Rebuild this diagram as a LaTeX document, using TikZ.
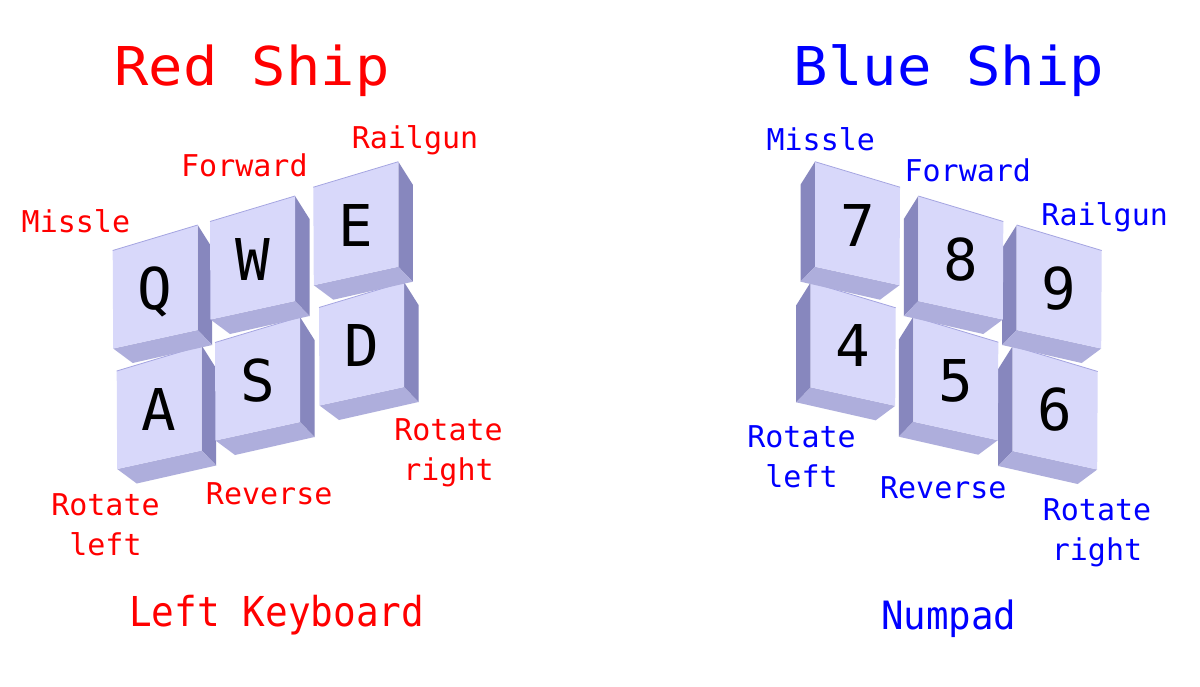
\documentclass[tikz,border=0pt]{standalone}
\usepackage{fontspec}
\usepackage{graphicx}
\newfontfamily\monofont{DejaVu Sans Mono}
\definecolor{keyfront}{RGB}{216,216,250}
\definecolor{keyside}{RGB}{135,135,190}
\definecolor{keybottom}{RGB}{174,174,220}
\definecolor{keyedge}{RGB}{165,165,225}
\definecolor{shipred}{RGB}{255,0,0}
\definecolor{shipblue}{RGB}{0,0,255}
\tikzset{
  keylabel/.style={anchor=base, inner sep=0pt, text=black, font=\monofont\fontsize{28.8}{30}\selectfont},
  actlabel/.style={anchor=base, inner sep=0pt, align=center, font=\monofont\fontsize{15}{20}\selectfont},
  titlelabel/.style={anchor=base, inner sep=0pt, font=\monofont\fontsize{26.75}{30}\selectfont},
  footlabel/.style={anchor=base, inner sep=0pt},
  redtext/.style={text=shipred},
  bluetext/.style={text=shipblue}
}
\newcommand\drawkey[5]{%
  \begin{scope}[shift={(#1,#2)},xscale=#3]
    \fill[keyside] (0,0) -- (-14.5,23) -- (-14.5,120) -- (0,105) -- cycle;
    \fill[keybottom] (0,105) -- (84.5,123.5) -- (65,138) -- (-14.5,120) -- cycle;
    \fill[keyfront] (0,0) -- (85,25.5) -- (84.5,123.5) -- (0,105) -- cycle;
    \draw[keyedge, line width=0.4pt] (0,0) -- (85,25.5);
    \node[keylabel] (#4) at (42.4,84.5) {#5};
  \end{scope}}
\begin{document}
\begin{tikzpicture}[x=0.5pt,y=-0.5pt]
\useasboundingbox (0,0) rectangle (1200,686);
\fill[white] (0,0) rectangle (1200,686);
% left keyboard (mirrored keys, side face on the right)
\drawkey{201.7}{345.5}{-1}{keyA}{A}
\drawkey{300}{317}{-1}{keyS}{S}
\drawkey{404}{282}{-1}{keyD}{D}
\drawkey{197.7}{225}{-1}{keyQ}{Q}
\drawkey{295}{196}{-1}{keyW}{W}
\drawkey{398.3}{161.7}{-1}{keyE}{E}
% numpad
\drawkey{1012.7}{346}{1}{key6}{6}
\drawkey{913.3}{316.7}{1}{key5}{5}
\drawkey{810.7}{282.3}{1}{key4}{4}
\drawkey{1016.7}{225}{1}{key9}{9}
\drawkey{918.3}{196}{1}{key8}{8}
\drawkey{815}{161.7}{1}{key7}{7}
% red labels
\node[titlelabel, redtext] (redtitle) at (252,85.7) {\scalebox{1.067}[1]{Red Ship}};
\node[actlabel, redtext] (redmissle) at (75.9,232.3) {Missle};
\node[actlabel, redtext] (redforward) at (244.4,176) {Forward};
\node[actlabel, redtext] (redrailgun) at (415,148.3) {Railgun};
\node[actlabel, redtext] (redrotl) at (105.5,555.7) {Rotate\\left};
\node[actlabel, redtext] (redreverse) at (269.2,504) {Reverse};
\node[actlabel, redtext] (redrotr) at (448.5,480) {Rotate\\right};
\node[footlabel, redtext, font=\monofont\fontsize{20.6}{24}\selectfont] (redfoot) at (276.7,626) {\scalebox{0.915}[1]{Left Keyboard}};
% blue labels
\node[titlelabel, bluetext] (bluetitle) at (949,85.7) {\scalebox{1.07}[1]{Blue Ship}};
\node[actlabel, bluetext] (bluemissle) at (820.8,150.7) {Missle};
\node[actlabel, bluetext] (blueforward) at (967.8,181.7) {Forward};
\node[actlabel, bluetext] (bluerailgun) at (1104.7,225.7) {Railgun};
\node[actlabel, bluetext] (bluerotl) at (801.5,487.3) {Rotate\\left};
\node[actlabel, bluetext] (bluereverse) at (943.3,498.3) {Reverse};
\node[actlabel, bluetext] (bluerotr) at (1097,560) {Rotate\\right};
\node[footlabel, bluetext, font=\monofont\fontsize{19.5}{24}\selectfont] (bluefoot) at (948.7,629.3) {\scalebox{0.96}[1]{Numpad}};
\end{tikzpicture}
\end{document}
